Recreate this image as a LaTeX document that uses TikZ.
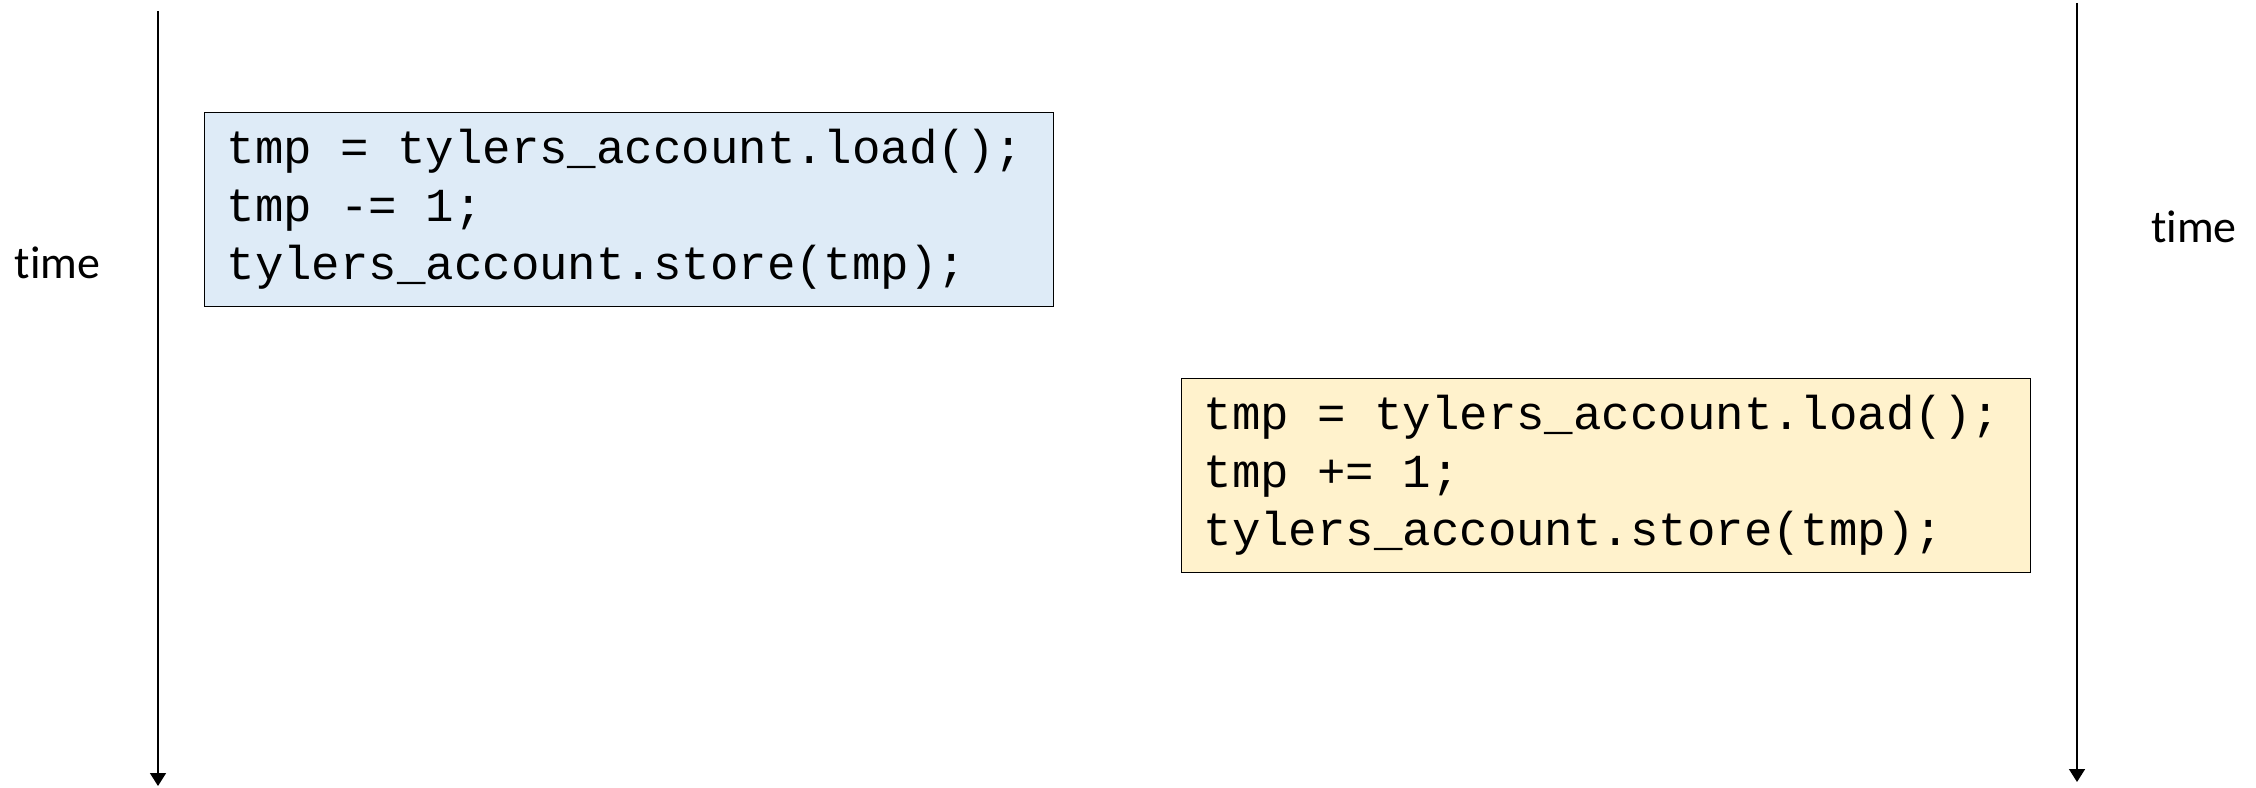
\documentclass[tikz,border=0pt]{standalone}
\usepackage{fontspec}
\setmainfont{Carlito}[Ligatures={NoCommon,NoContextual}]
\newfontfamily\codefont{Liberation Mono}
\newcommand\codestyle{\codefont\fontsize{47.4bp}{58bp}\selectfont}
\newcommand\csp{\phantom{x}}
\usetikzlibrary{arrows.meta}
\definecolor{boxblue}{HTML}{DEEBF7}
\definecolor{boxyellow}{HTML}{FFF2CC}
\tikzset{
  codebox/.style={draw=black, line width=1.3bp, anchor=north west, minimum width=849bp, minimum height=194bp,
    text width=805bp, inner xsep=22bp, inner ysep=0bp, align=left, font=\codestyle},
  timeline/.style={draw=black, line width=1.5bp, -{Triangle[width=16bp,length=13bp]}},
  timelabel/.style={font=\fontsize{46bp}{50bp}\selectfont}
}
\begin{document}
\begin{tikzpicture}[x=1bp,y=-1bp]
\useasboundingbox (0,0) rectangle (2256,787);
\coordinate (ltop) at (158,11);
\coordinate (lbot) at (158,786);
\coordinate (rtop) at (2077,3);
\coordinate (rbot) at (2077,782);
\draw[timeline] (ltop) -- (lbot);
\draw[timeline] (rtop) -- (rbot);
\node[timelabel] (tl) at (57.5,263) {t\kern0pt ime};
\node[timelabel] (tr) at (2194,227) {t\kern0pt ime};
\node[codebox, fill=boxblue] (b1) at (204,112) {tmp\csp=\csp tylers\_account.load();\\tmp\csp-=\csp1;\\tylers\_account.store(tmp);};
\node[codebox, fill=boxyellow] (b2) at (1181,378) {tmp\csp=\csp tylers\_account.load();\\tmp\csp+=\csp1;\\tylers\_account.store(tmp);};
\end{tikzpicture}
\end{document}
